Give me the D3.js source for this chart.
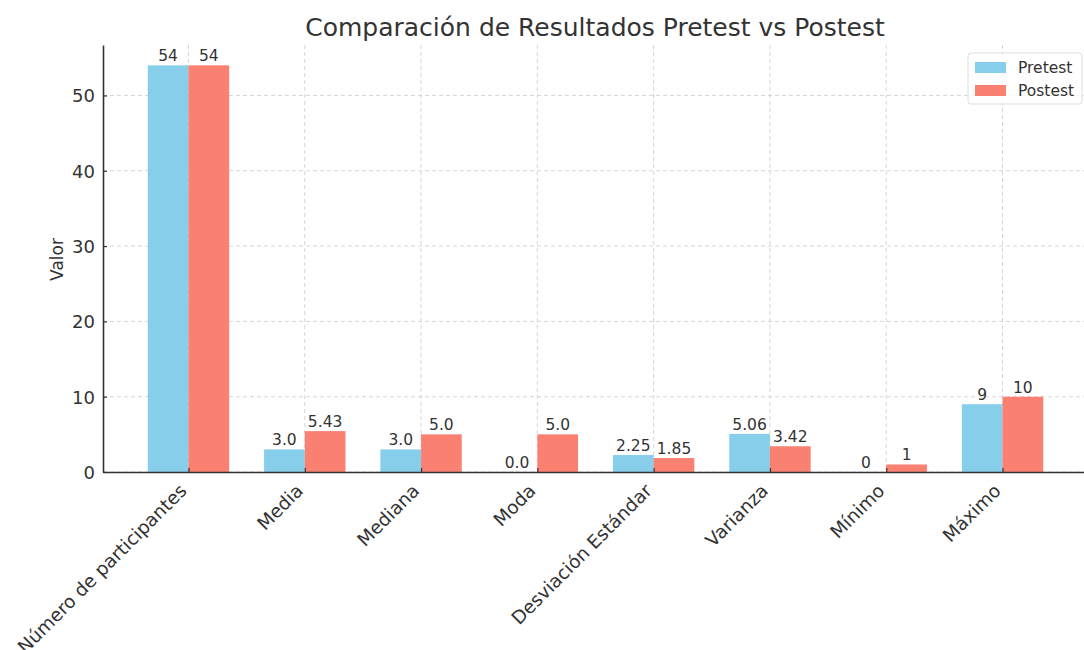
<!DOCTYPE html>
<html>
<head>
<meta charset="utf-8">
<script src="https://cdn.jsdelivr.net/npm/d3@7"></script>
<style>
  body { margin: 0; background: #fff; }
  text { font-family: "DejaVu Sans", sans-serif; fill: #333; }
</style>
</head>
<body>
<div id="chart"></div>
<script>
const categories = ["Número de participantes", "Media", "Mediana", "Moda",
  "Desviación Estándar", "Varianza", "Mínimo", "Máximo"];
const pretest = [54, 3.0, 3.0, 0.0, 2.25, 5.06, 0, 9];
const postest = [54, 5.43, 5.0, 5.0, 1.85, 3.42, 1, 10];
const pretestLabels = ["54", "3.0", "3.0", "0.0", "2.25", "5.06", "0", "9"];
const postestLabels = ["54", "5.43", "5.0", "5.0", "1.85", "3.42", "1", "10"];
const yTicks = [0, 10, 20, 30, 40, 50];

var width = 1084, height = 650;
var mLeft = 103, mRight = 1088, mTop = 45, mBottom = 472;

const svg = d3.select("#chart").append("svg")
  .attr("width", width)
  .attr("height", height);

// matplotlib style: bar width 0.35, 5% margins
const barW = 0.35;
const span = categories.length - 1 + 2 * barW;
const x = d3.scaleLinear()
  .domain([-barW - 0.05 * span, categories.length - 1 + barW + 0.05 * span])
  .range([mLeft, mRight]);
const y = d3.scaleLinear().domain([0, 54 * 1.05]).range([mBottom, mTop]);

// grid
svg.append("g").selectAll("line")
  .data(yTicks)
  .join("line")
  .attr("x1", mLeft).attr("x2", width)
  .attr("y1", d => y(d)).attr("y2", d => y(d))
  .attr("stroke", "#ccc").attr("stroke-dasharray", "4,3").attr("stroke-width", 0.8);
svg.append("g").selectAll("line")
  .data(categories)
  .join("line")
  .attr("x1", (d, i) => x(i)).attr("x2", (d, i) => x(i))
  .attr("y1", mTop).attr("y2", mBottom)
  .attr("stroke", "#ccc").attr("stroke-dasharray", "4,3").attr("stroke-width", 0.8);

const series = [
  { name: "Pretest", vals: pretest, labels: pretestLabels, color: "#87CEEB", off: -barW },
  { name: "Postest", vals: postest, labels: postestLabels, color: "#FA8072", off: 0 }
];

series.forEach(s => {
  svg.append("g").selectAll("rect")
    .data(s.vals)
    .join("rect")
    .attr("x", (d, i) => x(i + s.off))
    .attr("width", x(barW) - x(0))
    .attr("y", d => y(d))
    .attr("height", d => y(0) - y(d))
    .attr("fill", s.color);
  svg.append("g").selectAll("text")
    .data(s.vals)
    .join("text")
    .attr("x", (d, i) => x(i + s.off + barW / 2))
    .attr("y", d => y(d) - 4)
    .attr("text-anchor", "middle")
    .style("font-size", "15.5px")
    .text((d, i) => s.labels[i]);
});

// axes
const yAxis = svg.append("g")
  .attr("transform", `translate(${mLeft},0)`)
  .call(d3.axisLeft(y).tickValues(yTicks).tickSizeInner(-4).tickSizeOuter(0).tickPadding(8));
const xAxis = svg.append("g")
  .attr("transform", `translate(0,${mBottom})`)
  .call(d3.axisBottom(x).tickValues(d3.range(categories.length)).tickSizeInner(-4).tickSizeOuter(0)
    .tickFormat(i => categories[i]));
[yAxis, xAxis].forEach(a => {
  a.select(".domain").attr("stroke", "#333").attr("stroke-width", 1.6);
  a.selectAll(".tick line").attr("stroke", "#333").attr("stroke-width", 1.2);
  a.selectAll("text").style("font-size", "18px").attr("fill", "#333");
});
yAxis.selectAll("text").attr("dy", "0.35em");
xAxis.selectAll("text")
  .attr("text-anchor", "end")
  .attr("dy", "0.3em")
  .style("font-size", "18.5px")
  .attr("transform", "translate(-5,16) rotate(-45)")
  .attr("y", 0).attr("x", 0);

// labels
svg.append("text")
  .attr("x", 595).attr("y", 36)
  .attr("text-anchor", "middle")
  .style("font-size", "25px")
  .text("Comparación de Resultados Pretest vs Postest");
svg.append("text")
  .attr("transform", `translate(63,${(mTop + mBottom) / 2 + 1}) rotate(-90)`)
  .attr("text-anchor", "middle")
  .style("font-size", "17px")
  .text("Valor");

// legend
const legend = svg.append("g").attr("transform", "translate(968,53)");
legend.append("rect")
  .attr("width", 114).attr("height", 51).attr("rx", 3)
  .attr("fill", "#fff").attr("fill-opacity", 0.8)
  .attr("stroke", "#ddd");
series.forEach((s, i) => {
  legend.append("rect")
    .attr("x", 7).attr("y", 9 + i * 23)
    .attr("width", 31).attr("height", 11)
    .attr("fill", s.color);
  legend.append("text")
    .attr("x", 50).attr("y", 20 + i * 23)
    .style("font-size", "15.5px")
    .text(s.name);
});
</script>
</body>
</html>
